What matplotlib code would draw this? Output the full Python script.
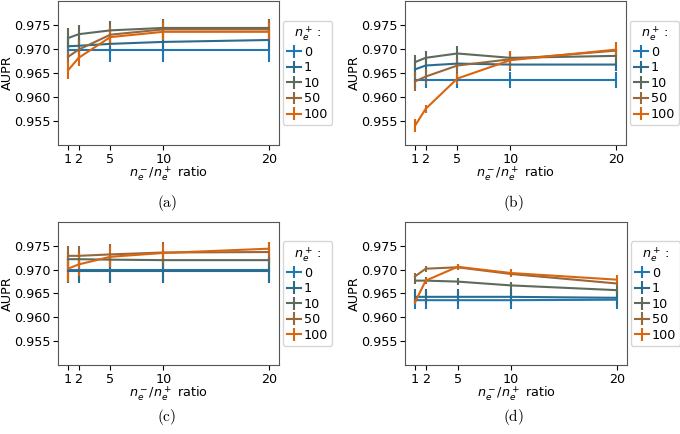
import matplotlib
matplotlib.use('Agg')
import matplotlib.pyplot as plt
import numpy as np

# x values and legend
ratios = [1, 2, 5, 10, 20]
n_pos = ['0', '1', '10', '50', '100']
colors = ['#1f77b4', '#2b6c8c', '#5e6a5c', '#98673a', '#d9650f']

# mean AUPR per n_e^+ (rows) and ratio (columns)
a_mean = [[0.9697, 0.9697, 0.9697, 0.9697, 0.9697],
          [0.9705, 0.9706, 0.9710, 0.9714, 0.9718],
          [0.9722, 0.9730, 0.9738, 0.9743, 0.9743],
          [0.9683, 0.9698, 0.9729, 0.9740, 0.9740],
          [0.9655, 0.9681, 0.9724, 0.9735, 0.9735]]
a_err = [[0.0024] * 5,
         [0.0020] * 5,
         [0.0021, 0.0020, 0.0020, 0.0019, 0.0019],
         [0.0020] * 5,
         [0.0019, 0.0017, 0.0018, 0.0018, 0.0018]]

b_mean = [[0.9635, 0.9635, 0.9635, 0.9635, 0.9635],
          [0.9657, 0.9665, 0.9669, 0.9667, 0.9667],
          [0.9672, 0.9681, 0.9690, 0.9681, 0.9685],
          [0.9632, 0.9642, 0.9665, 0.9678, 0.9696],
          [0.9540, 0.9575, 0.9638, 0.9676, 0.9698]]
b_err = [[0.0016] * 5,
         [0.0014] * 5,
         [0.0015] * 5,
         [0.0019, 0.0015, 0.0014, 0.0015, 0.0015],
         [0.0014, 0.0008, 0.0012, 0.0019, 0.0016]]

c_mean = [[0.9700, 0.9700, 0.9700, 0.9700, 0.9700],
          [0.9698, 0.9698, 0.9698, 0.9698, 0.9698],
          [0.9722, 0.9722, 0.9721, 0.9720, 0.9720],
          [0.9729, 0.9729, 0.9732, 0.9736, 0.9737],
          [0.9702, 0.9711, 0.9727, 0.9735, 0.9744]]
c_err = [[0.0026] * 5,
         [0.0026] * 5,
         [0.0015] * 5,
         [0.0021] * 5,
         [0.0027, 0.0024, 0.0021, 0.0017, 0.0014]]

d_mean = [[0.9636, 0.9636, 0.9636, 0.9636, 0.9637],
          [0.9643, 0.9643, 0.9643, 0.9643, 0.9641],
          [0.9677, 0.9677, 0.9675, 0.9667, 0.9657],
          [0.9686, 0.9702, 0.9705, 0.9691, 0.9671],
          [0.9632, 0.9677, 0.9706, 0.9693, 0.9679]]
d_err = [[0.0019] * 5,
         [0.0016] * 5,
         [0.0008] * 5,
         [0.0006] * 5,
         [0.0005, 0.0006, 0.0006, 0.0008, 0.0009]]

plt.rcParams['mathtext.fontset'] = 'dejavusans'
fs = 9.2

fig = plt.figure(figsize=(6.8, 4.34), dpi=100)

W, H = 680.0, 434.0
panels = [(a_mean, a_err, 58, 0.5, 279, 145, '(a)', 167, 203),
          (b_mean, b_err, 405, 0.5, 626, 145, '(b)', 513, 203),
          (c_mean, c_err, 58, 222, 279, 365, '(c)', 167, 417),
          (d_mean, d_err, 405, 222, 627, 365, '(d)', 513, 417)]

for mean, err, x0, y0, x1, y1, cap, cx, cy in panels:
    ax = fig.add_axes([x0 / W, 1 - y1 / H, (x1 - x0) / W, (y1 - y0) / H])
    for i in range(len(n_pos)):
        ax.errorbar(ratios, mean[i], yerr=err[i], color=colors[i],
                    lw=1.5, elinewidth=1.5, label=n_pos[i])
    ax.set_ylim(0.950, 0.980)
    ax.set_yticks([0.955, 0.960, 0.965, 0.970, 0.975])
    ax.set_xticks(ratios)
    ax.tick_params(labelsize=fs, length=3.5, width=0.8, pad=2)
    ax.set_ylabel('AUPR', fontsize=fs)
    ax.yaxis.set_label_coords(-44.0 / (x1 - x0), 0.5)
    ax.set_xlabel(r'$n_e^-/n_e^+$ ratio', fontsize=fs, labelpad=-1)
    for sp in ax.spines.values():
        sp.set_color('#555555')
        sp.set_linewidth(0.8)
    leg = ax.legend(loc='center left', bbox_to_anchor=(1.0, 0.5),
                    title=r'$n_e^+\,$:', fontsize=fs, title_fontsize=fs,
                    borderaxespad=0.3, handlelength=1.1, handletextpad=0.25,
                    labelspacing=0.2, borderpad=0.3, framealpha=0.8)
    fig.text(cx / W, 1 - cy / H, r'$\mathrm{' + cap + '}$', ha='center',
             va='center', fontsize=11, math_fontfamily='cm')

fig.savefig('out.png', dpi=100)
